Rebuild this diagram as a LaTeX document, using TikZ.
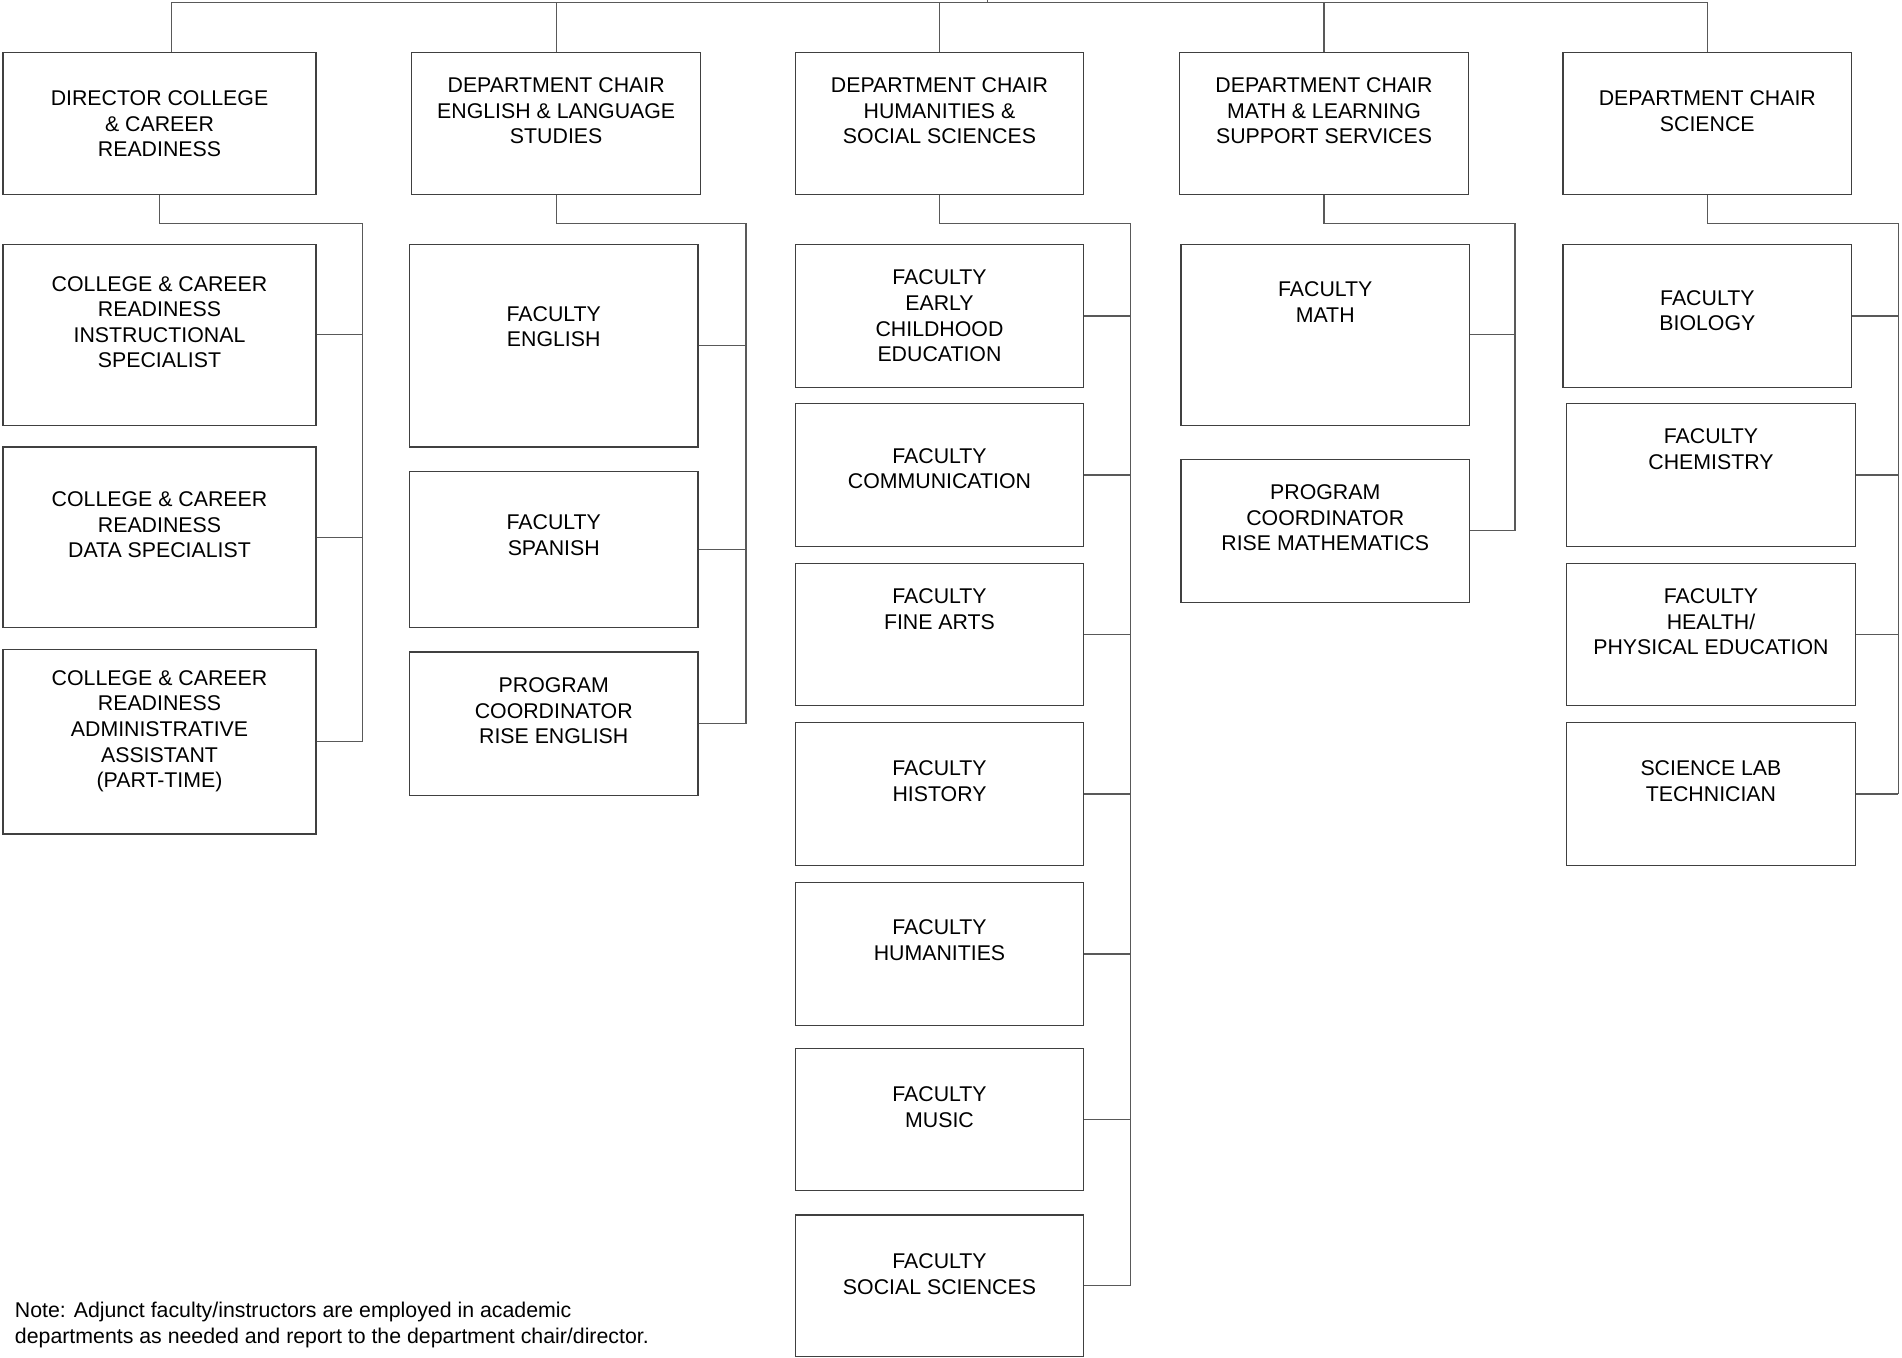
\documentclass[tikz,border=0pt]{standalone}
\usepackage{fontspec}
\setmainfont{Liberation Sans}

\tikzset{
  post/.style={draw=black!75, line width=0.6pt, anchor=north west, align=center,
    minimum width=4.76cm, minimum height=2.36cm, inner sep=2pt,
    font=\fontsize{10}{12}\selectfont},
  wide/.style={minimum width=5.16cm},
  link/.style={draw=black!65, line width=0.6pt}
}

\begin{document}
\begin{tikzpicture}[x=0.02cm, y=-0.02cm]
  \useasboundingbox (0,0) rectangle (1568,1119);

  % department heads
  \node[post, wide, minimum height=2.34cm] (dir) at (2,43)
    {DIRECTOR COLLEGE\\\& CAREER\\READINESS};
  \node[post, minimum height=2.34cm] (chEng) at (339,43)
    {DEPARTMENT CHAIR\\ENGLISH \& LANGUAGE\\STUDIES\\};
  \node[post, minimum height=2.34cm] (chHum) at (655,43)
    {DEPARTMENT CHAIR\\HUMANITIES \&\\SOCIAL SCIENCES\\};
  \node[post, minimum height=2.34cm] (chMath) at (972,43)
    {DEPARTMENT CHAIR\\MATH \& LEARNING\\SUPPORT SERVICES\\};
  \node[post, minimum height=2.34cm] (chSci) at (1288,43)
    {DEPARTMENT CHAIR\\SCIENCE\\};

  % college & career readiness
  \node[post, wide, minimum height=2.98cm] (ccrIS) at (2,201)
    {COLLEGE \& CAREER\\READINESS\\INSTRUCTIONAL\\SPECIALIST\\};
  \node[post, wide, minimum height=2.98cm] (ccrDS) at (2,368)
    {COLLEGE \& CAREER\\READINESS\\DATA SPECIALIST\\};
  \node[post, wide, minimum height=3.04cm] (ccrAA) at (2,535)
    {COLLEGE \& CAREER\\READINESS\\ADMINISTRATIVE\\ASSISTANT\\(PART-TIME)\\};

  % english & language studies
  \node[post, minimum height=3.34cm] (fEng) at (337,201) {FACULTY\\ENGLISH\\[6pt]};
  \node[post, minimum height=2.58cm] (fSpa) at (337,388) {FACULTY\\SPANISH\\[1.5pt]};
  \node[post] (pcEng) at (337,537) {PROGRAM\\COORDINATOR\\RISE ENGLISH\\};

  % humanities & social sciences
  \node[post] (fECE) at (655,201) {FACULTY\\EARLY\\CHILDHOOD\\EDUCATION};
  \node[post] (fCom) at (655,332) {FACULTY\\COMMUNICATION\\[-6pt]};
  \node[post, minimum height=2.34cm] (fArt) at (655,464) {FACULTY\\FINE ARTS\\[12pt]};
  \node[post] (fHis) at (655,595) {FACULTY\\HISTORY\\};
  \node[post] (fHum) at (655,727) {FACULTY\\HUMANITIES\\[1pt]};
  \node[post, minimum height=2.34cm] (fMus) at (655,864) {FACULTY\\MUSIC\\};
  \node[post, minimum height=2.34cm] (fSoc) at (655,1001) {FACULTY\\SOCIAL SCIENCES\\[-1pt]};

  % math & learning support
  \node[post, minimum height=2.98cm] (fMath) at (973,201) {FACULTY\\MATH\\[18.5pt]};
  \node[post] (pcMath) at (973,378) {PROGRAM\\COORDINATOR\\RISE MATHEMATICS\\};

  % science
  \node[post] (fBio) at (1288,201) {FACULTY\\BIOLOGY\\[-7pt]};
  \node[post] (fChem) at (1291,332) {FACULTY\\CHEMISTRY\\[12.5pt]};
  \node[post, minimum height=2.34cm] (fPE) at (1291,464) {FACULTY\\HEALTH/\\PHYSICAL EDUCATION\\};
  \node[post] (sciLab) at (1291,595) {SCIENCE LAB\\TECHNICIAN\\};

  \node[anchor=north west, align=left, inner sep=0pt, font=\fontsize{10}{12}\selectfont] (note) at (12,1073)
    {Note: Adjunct faculty/instructors are employed in academic\\departments as needed and report to the department chair/director.};

  % top rail
  \coordinate (root) at (814,-10);
  \coordinate (rail) at (814,2);
  \draw[link] (root) -- (rail);
  \draw[link] ([xshift=0.2cm]dir.north) |- (rail) -| (chSci.north);
  \foreach \c in {chEng,chHum,chMath}
    \draw[link] (\c.north) -- (\c.north |- rail);

  % buses
  \coordinate (busDir) at (299,184);
  \coordinate (busEng) at (615,184);
  \coordinate (busHum) at (932,184);
  \coordinate (busMath) at (1249,184);
  \coordinate (busSci) at (1565,184);
  \draw[link] (dir.south) |- (busDir) -- (busDir |- ccrAA.east);
  \draw[link] (chEng.south) |- (busEng) -- (busEng |- pcEng.east);
  \draw[link] (chHum.south) |- (busHum) -- (busHum |- fSoc.east);
  \draw[link] (chMath.south) |- (busMath) -- (busMath |- pcMath.east);
  \draw[link] (chSci.south) |- (busSci) -- (busSci |- sciLab.east);

  \foreach \n/\b in {ccrIS/busDir, ccrDS/busDir, ccrAA/busDir,
      fEng/busEng, fSpa/busEng, pcEng/busEng,
      fECE/busHum, fCom/busHum, fArt/busHum, fHis/busHum, fHum/busHum, fMus/busHum, fSoc/busHum,
      fMath/busMath, pcMath/busMath,
      fBio/busSci, fChem/busSci, fPE/busSci, sciLab/busSci}
    \draw[link] (\n.east) -- (\n.east -| \b);
\end{tikzpicture}
\end{document}
